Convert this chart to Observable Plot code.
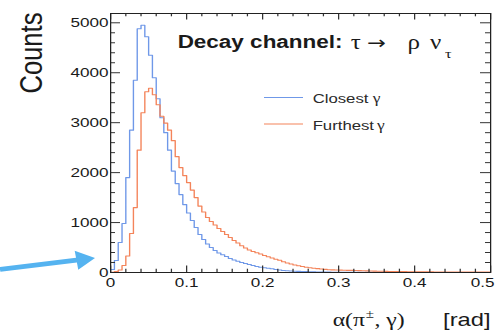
<!DOCTYPE html>
<html>
<head>
<meta charset="utf-8">
<script src="https://cdn.jsdelivr.net/npm/d3@7"></script>
<script src="https://cdn.jsdelivr.net/npm/@observablehq/plot@0.6"></script>
<style>
  body { margin: 0; background: #fff; }
  #chart svg { display: block; }
</style>
</head>
<body>
<div id="chart"></div>
<script>
// Opening angle between the charged pion and the photon, tau -> rho nu decays.
// Histograms: 100 bins of 0.005 rad from 0 to 0.5 rad.
const binWidth = 0.005;

const closest = [
  60, 240, 600, 980, 1900, 2850, 3850, 4880, 4950, 4720,
  4350, 3900, 3480, 3100, 2800, 2450, 2030, 1780, 1560, 1360,
  1190, 1040, 900, 760, 660, 570, 500, 440, 390, 355,
  320, 280, 250, 225, 200, 180, 160, 140, 120, 105,
  95, 85, 75, 60, 50, 40, 35, 30, 25, 22,
  20, 17, 15, 12, 10, 9, 8, 7, 6, 5,
  4, 4, 3, 3, 3, 3, 2, 2, 2, 2,
  2, 2, 1, 1, 1, 1, 1, 1, 1, 1,
  1, 1, 1, 1, 1, 0, 1, 0, 1, 0,
  0, 1, 0, 0, 1, 0, 0, 0, 0, 0
];

const furthest = [
  5, 20, 50, 140, 330, 780, 1300, 2450, 3200, 3620,
  3690, 3560, 3360, 3130, 2990, 2850, 2640, 2320, 2100, 1940,
  1800, 1650, 1500, 1330, 1210, 1100, 1020, 950, 880, 820,
  760, 700, 640, 590, 535, 490, 450, 420, 395, 370,
  340, 315, 290, 265, 245, 215, 190, 170, 150, 135,
  120, 105, 95, 85, 78, 70, 62, 56, 52, 50,
  48, 45, 43, 42, 40, 38, 36, 33, 30, 28,
  26, 24, 22, 21, 20, 19, 18, 17, 16, 15,
  14, 14, 13, 12, 12, 11, 11, 10, 10, 10,
  9, 9, 9, 8, 8, 8, 7, 7, 7, 7
];

const xTicks = [0, 0.1, 0.2, 0.3, 0.4, 0.5];
const xTickLabels = ["0", "0.1", "0.2", "0.3", "0.4", "0.5"];
const xMinorTicks = [0.02, 0.04, 0.06, 0.08, 0.12, 0.14, 0.16, 0.18, 0.22, 0.24, 0.26, 0.28,
                     0.32, 0.34, 0.36, 0.38, 0.42, 0.44, 0.46, 0.48];
const yTicks = [0, 1000, 2000, 3000, 4000, 5000];
const yTickLabels = ["0", "1000", "2000", "3000", "4000", "5000"];
const yMinorTicks = [200, 400, 600, 800, 1200, 1400, 1600, 1800, 2200, 2400, 2600, 2800,
                     3200, 3400, 3600, 3800, 4200, 4400, 4600, 4800];

const seriesNames = ["Closest", "Furthest"];
const seriesColors = ["#6f98e8", "#f4845a"];

// Layout (drawing units; the canvas is shown 1.25x wider than it is drawn)
const W = 396, H = 330, ML = 88, MR = 4, MT = 13, MB = 58;
const X_MAX = 0.5, Y_MAX = 5186;
const fw = W - ML - MR, fh = H - MT - MB;
const xPer = X_MAX / fw, yPer = Y_MAX / fh;
const px2x = (px) => (px - ML) * xPer;
const py2y = (py) => (H - MB - py) * yPer;

const sans = "Liberation Sans, Arial, Helvetica, sans-serif";
const serif = "Liberation Serif, Times New Roman, serif";
const ink = "#1a1a1a";

// Histogram outline points: left edge of each bin, plus the closing edge.
const steps = (counts) => {
  const pts = counts.map((c, i) => ({x: i * binWidth, y: c}));
  pts.push({x: counts.length * binWidth, y: counts[counts.length - 1]});
  return pts;
};

const label = (text, x, y, o = {}) => Plot.text([text], {
  text: (d) => d, frameAnchor: "top-left", dx: x - ML, dy: y - MT,
  textAnchor: "start", lineAnchor: "bottom", fill: ink, fontFamily: sans, ...o
});

// Inward tick marks on all four sides
const tickMarks = (len, major) => {
  const xs = major ? xTicks : xMinorTicks;
  const ys = major ? yTicks : yMinorTicks;
  const lx = len[0], ly = len[1];
  const st = {stroke: "#333", strokeWidth: 1};
  return [
    Plot.ruleX(xs, {x: (d) => d, y1: 0, y2: ly * yPer, ...st}),
    Plot.ruleX(xs, {x: (d) => d, y1: Y_MAX - ly * yPer, y2: Y_MAX, ...st}),
    Plot.ruleY(ys, {y: (d) => d, x1: 0, x2: lx * xPer, ...st}),
    Plot.ruleY(ys, {y: (d) => d, x1: X_MAX - lx * xPer, x2: X_MAX, ...st})
  ];
};

const lastX = xTicks[xTicks.length - 1];

const svg = Plot.plot({
  width: W, height: H,
  marginLeft: ML, marginRight: MR, marginTop: MT, marginBottom: MB,
  style: {fontFamily: sans, fontSize: "13.7px", color: ink, background: "#fff", overflow: "hidden"},
  x: {domain: [0, X_MAX]},
  y: {domain: [0, Y_MAX]},
  marks: [
    Plot.line(steps(closest), {x: "x", y: "y", curve: "step-after", stroke: seriesColors[0], strokeWidth: 1.1}),
    Plot.line(steps(furthest), {x: "x", y: "y", curve: "step-after", stroke: seriesColors[1], strokeWidth: 1.1}),
    ...tickMarks([4, 3.3], false),
    ...tickMarks([8, 6.5], true),
    Plot.frame({stroke: "#222", strokeWidth: 1}),
    Plot.axisX(xTicks.slice(0, -1), {tickSize: 0, tickPadding: 5, label: null, fontSize: 13.7,
      tickFormat: (d) => xTickLabels[xTicks.indexOf(d)]}),
    // last x label kept inside the right edge
    Plot.text([lastX], {x: (d) => d, text: (d) => xTickLabels[xTicks.indexOf(d)], frameAnchor: "bottom",
      dy: 5, dx: 3.2, lineAnchor: "top", textAnchor: "end", fontSize: 13.7, fill: ink}),
    Plot.axisY(yTicks, {tickSize: 0, tickPadding: 1.6, label: null, fontSize: 13.7,
      tickFormat: (d) => yTickLabels[yTicks.indexOf(d)]}),

    // Y title
    Plot.text(["Counts"], {text: (d) => d, frameAnchor: "top-left", dx: 33 - ML, dy: 12 - MT,
      rotate: -90, textAnchor: "end", lineAnchor: "bottom", fontSize: 25.6, fill: ink}),

    // X title: α(π±, γ)   [rad]
    label("α(π", 265.6, 325, {fontFamily: serif, fontSize: 19}),
    label("±", 292, 317, {fontFamily: serif, fontSize: 12}),
    label(", γ)", 299, 325, {fontFamily: serif, fontSize: 19}),
    label("[rad]", 392, 325, {textAnchor: "end", fontSize: 19}),

    // Heading: Decay channel: τ → ρ ν_τ
    label("Decay channel:", 141.6, 47.5, {fontSize: 18, fontWeight: "bold"}),
    label("τ", 280, 48, {fontFamily: serif, fontSize: 20}),
    label("→", 293, 48, {fontFamily: "DejaVu Sans, sans-serif", fontSize: 18}),
    label("ρ", 325.5, 48, {fontFamily: serif, fontSize: 20}),
    label("ν", 343.5, 48, {fontFamily: serif, fontSize: 20}),
    label("τ", 355.5, 57.5, {fontFamily: serif, fontSize: 13}),

    // Legend
    Plot.ruleY([py2y(97)], {y: (d) => d, x1: px2x(211.2), x2: px2x(242.4), stroke: seriesColors[0], strokeWidth: 1.1}),
    Plot.ruleY([py2y(123.5)], {y: (d) => d, x1: px2x(211.2), x2: px2x(242.4), stroke: seriesColors[1], strokeWidth: 1.1}),
    label(seriesNames[0], 249.6, 102.5, {fontSize: 13.4, fill: "#2a2a2a"}),
    label("γ", 297.6, 102.5, {fontFamily: serif, fontSize: 14, fill: "#2a2a2a"}),
    label(seriesNames[1], 249.6, 129, {fontSize: 13.4, fill: "#2a2a2a"}),
    label("γ", 301, 129, {fontFamily: serif, fontSize: 14, fill: "#2a2a2a"})
  ]
});

// Pointer arrow toward the origin, in the left margin
(function drawPointer() {
  const tail = [0, 269.5], tip = [76, 258];
  const dx = tip[0] - tail[0], dy = tip[1] - tail[1];
  const len = Math.hypot(dx, dy);
  const u = [dx / len, dy / len], n = [-u[1], u[0]];
  const headLen = 15, headHalf = 9.5, shaftHalf = 2.4;
  const base = [tip[0] - u[0] * headLen, tip[1] - u[1] * headLen];
  const p = (pt, k) => [pt[0] + n[0] * k, pt[1] + n[1] * k];
  const pts = [p(tail, shaftHalf), p(base, shaftHalf), p(base, headHalf), tip,
               p(base, -headHalf), p(base, -shaftHalf), p(tail, -shaftHalf)];
  d3.select(svg).append("path")
    .attr("d", "M" + pts.map((q) => q.join(",")).join("L") + "Z")
    .attr("fill", "#55b3f0");
})();

svg.setAttribute("width", 495);
svg.setAttribute("height", 330);
svg.setAttribute("preserveAspectRatio", "none");
svg.style.width = "495px";
svg.style.height = "330px";
svg.style.maxWidth = "none";
document.getElementById("chart").appendChild(svg);
</script>
</body>
</html>
